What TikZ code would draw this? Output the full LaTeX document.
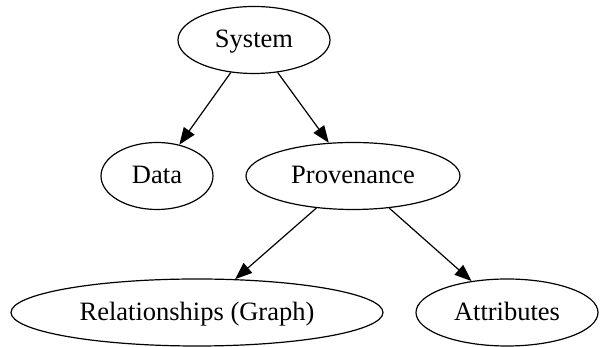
\documentclass[tikz,border=0pt]{standalone}
\usepackage{fontspec}
\setmainfont{Liberation Serif}
\usetikzlibrary{arrows.meta, shapes.geometric}

\begin{document}
\begin{tikzpicture}[
    x=1pt, y=1pt,
    node_style/.style={ellipse, draw, line width=1.2pt, inner sep=0pt, minimum height=67pt, text height=20pt, text depth=4pt, font=\fontsize{26.5}{30}\selectfont},
    edge_style/.style={-{Triangle[length=17pt, width=13pt]}, line width=1.2pt}
]
\useasboundingbox (0,0) rectangle (600,347);

% Top rank
\node[node_style, minimum width=152pt] (system) at (254,307) {System};

% Middle rank
\node[node_style, minimum width=112pt] (data) at (157,171) {Data};
\node[node_style, minimum width=214pt] (prov) at (353,171) {Provenance};

% Bottom rank
\node[node_style, minimum width=372pt] (rel) at (197,34.5) {Relationships (Graph)};
\node[node_style, minimum width=182pt] (attr) at (507,34.5) {Attributes};

% Edges
\draw[edge_style] (system) -- (data);
\draw[edge_style] (system) -- (prov);
\draw[edge_style] (prov) -- (rel);
\draw[edge_style] (prov) -- (attr);

\end{tikzpicture}
\end{document}
